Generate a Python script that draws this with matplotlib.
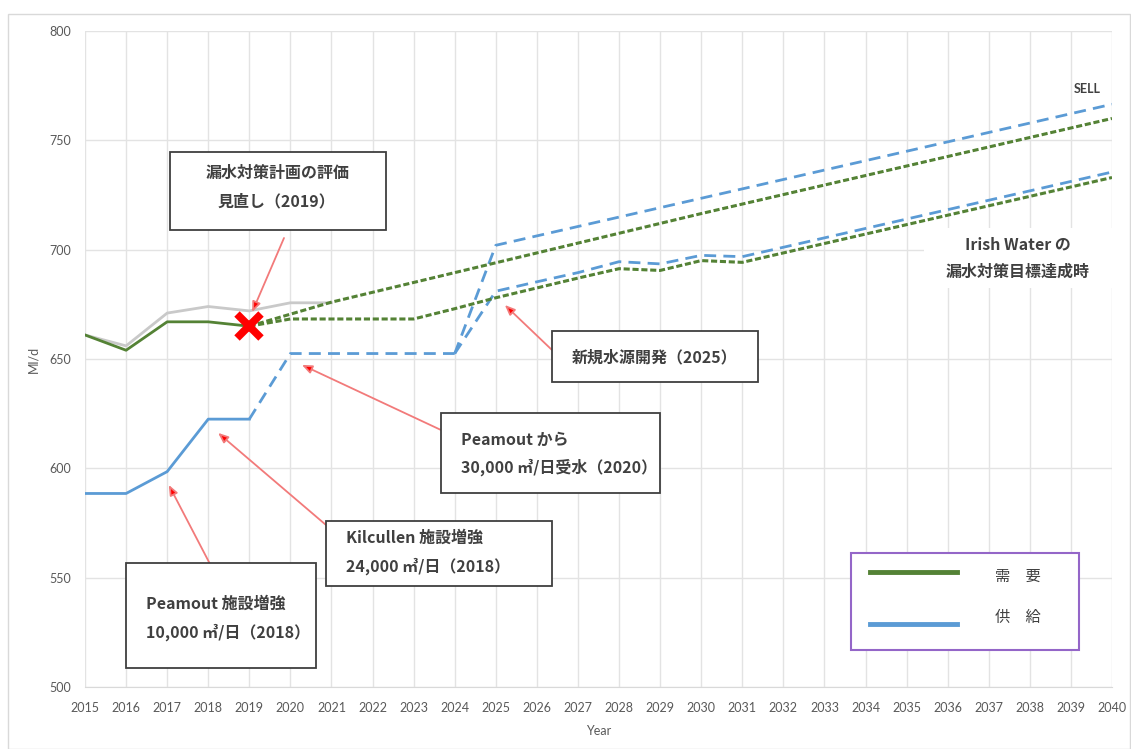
import matplotlib
matplotlib.use("Agg")
import matplotlib.pyplot as plt
from matplotlib.patches import Rectangle
from matplotlib.lines import Line2D

# ---------------- data ----------------
years_hist = [2015, 2016, 2017, 2018, 2019]
demand_hist = [661, 654, 667, 667, 665]
grey_years = [2015, 2016, 2017, 2018, 2019, 2020, 2021]
grey_vals = [661, 656, 671, 674, 672, 675.7, 675.7]

demand_sell_years = [2019, 2021, 2025, 2030, 2040]
demand_sell_vals = [665, 676, 694, 716.5, 760]

demand_iw_years = [2019, 2020, 2021, 2022, 2023, 2024, 2025, 2026, 2027, 2028, 2029, 2030, 2031, 2040]
demand_iw_vals = [665, 668.3, 668.3, 668.3, 668.3, 673, 678, 682.5, 687, 691.3, 690.5, 695, 694.2, 733]

supply_hist = [588.5, 588.5, 598.5, 622.5, 622.5]
supply_mid_years = [2019, 2020, 2021, 2022, 2023, 2024]
supply_mid_vals = [622.5, 652.5, 652.5, 652.5, 652.5, 652.5]

supply_sell_years = [2024, 2025, 2030, 2040]
supply_sell_vals = [652.5, 702, 723.5, 766.5]

supply_iw_years = [2024, 2025, 2026, 2027, 2028, 2029, 2030, 2031, 2040]
supply_iw_vals = [652.5, 681, 685.3, 689.5, 694.5, 693.5, 697.4, 696.8, 735.5]

review_point = (2019, 665)

x_ticks = list(range(2015, 2041))
y_ticks = [500, 550, 600, 650, 700, 750, 800]

# ---------------- style ----------------
W, H = 1131, 749
GREEN = "#548235"
BLUE = "#5B9BD5"
GREY = "#C9C9C9"
TXT = "#404040"
CJK = ["Noto Sans CJK JP", "DejaVu Sans"]

fig = plt.figure(figsize=(W / 100, H / 100), dpi=100)
ax = fig.add_axes([85 / W, 1 - 687 / H, (1112 - 85) / W, (687 - 31) / H])

def fx(px):
    return px / W

def fy(py):
    return 1 - py / H

# outer chart border
fig.add_artist(Rectangle((fx(8), 0), 1 - fx(8) - 0.001, fy(14), transform=fig.transFigure,
                         fill=False, ec="#D9D9D9", lw=1.0, zorder=0))

ax.set_xlim(2015, 2040)
ax.set_ylim(500, 800)
ax.set_xticks(x_ticks)
ax.set_yticks(y_ticks)
ax.set_xticklabels([str(t) for t in x_ticks])
ax.grid(True, color="#E3E3E3", lw=1.0)
ax.set_axisbelow(True)
for s in ["top", "right", "left"]:
    ax.spines[s].set_visible(False)
ax.spines["bottom"].set_color("#D9D9D9")
ax.tick_params(length=0, colors="#595959", labelsize=9)
ax.tick_params(axis="x", pad=11)
ax.tick_params(axis="y", pad=10)
for lab in ax.get_xticklabels() + ax.get_yticklabels():
    lab.set_family("Lato")
ax.set_ylabel("Ml/d", color="#595959", fontsize=9, family="Lato", labelpad=7)
ax.set_xlabel("Year", color="#595959", fontsize=9, family="Lato", labelpad=8)

# lines
ax.plot(grey_years, grey_vals, color=GREY, lw=2, zorder=2)
ax.plot(years_hist, demand_hist, color=GREEN, lw=2, zorder=3)
ax.plot(years_hist, supply_hist, color=BLUE, lw=2, zorder=3)
ax.plot(supply_mid_years, supply_mid_vals, color=BLUE, lw=2, dashes=[4.3, 2.6], zorder=3)
ax.plot(supply_sell_years, supply_sell_vals, color=BLUE, lw=2, dashes=[4.3, 2.6], zorder=3)
ax.plot(supply_iw_years, supply_iw_vals, color=BLUE, lw=2, dashes=[4.3, 2.6], zorder=3)
ax.plot(demand_sell_years, demand_sell_vals, color=GREEN, lw=2.2, dashes=[2.0, 0.9], zorder=4)
ax.plot(demand_iw_years, demand_iw_vals, color=GREEN, lw=2.2, dashes=[2.0, 0.9], zorder=4)

ax.plot([review_point[0]], [review_point[1]], marker="x", color="red", ms=17, mew=5.5, zorder=6)

ax.text(2039.4, 773.5, "SELL", fontsize=9, fontweight="bold", color=TXT, family="Lato",
        ha="center", va="center", zorder=5)

# arrows: head in data coords, tail in figure pixels
arrows = [
    ((2019.07, 671.5), (284, 238)),
    ((2025.22, 674.7), (552, 350)),
    ((2020.28, 647.3), (441, 430)),
    ((2018.24, 616.2), (326, 525)),
    ((2017.04, 592.4), (210, 564)),
]
for head, tail in arrows:
    ax.annotate("", xy=head, xycoords="data", xytext=(fx(tail[0]), fy(tail[1])),
                textcoords="figure fraction",
                arrowprops=dict(arrowstyle="-|>,head_length=0.6,head_width=0.25",
                                fc="#FF0000", ec="#F27A7A", lw=1.3, shrinkA=0, shrinkB=0),
                zorder=5)

def box(x0, y0, x1, y1, edge=True):
    fig.add_artist(Rectangle((fx(x0), fy(y1)), fx(x1) - fx(x0), fy(y0) - fy(y1),
                             transform=fig.transFigure, fc="white",
                             ec="#3F3F3F" if edge else "none", lw=1.3, zorder=10))

def text(x, y, s, ha="left", size=11.5, weight="bold", color=TXT):
    fig.text(fx(x), fy(y), s, ha=ha, va="center", fontsize=size, fontweight=weight,
             color=color, family=CJK, zorder=11)

box(170, 152, 386, 230)
text(278, 173, "漏水対策計画の評価", ha="center")
text(276, 201, "見直し（2019）", ha="center")

box(552, 331, 758, 382)
text(572, 357, "新規水源開発（2025）")

box(441, 413, 660, 493)
text(461, 440, "Peamout から")
text(461, 467, "30,000 ㎥/日受水（2020）")

box(326, 521, 552, 586)
text(346, 538, "Kilcullen 施設増強")
text(346, 566, "24,000 ㎥/日（2018）")

box(126, 563, 316, 668)
text(146, 604, "Peamout 施設増強")
text(146, 632, "10,000 ㎥/日（2018）")

box(924, 228, 1113, 288, edge=False)
text(1018, 244, "Irish Water の", ha="center")
text(1018, 272, "漏水対策目標達成時", ha="center")

# legend
fig.add_artist(Rectangle((fx(851), fy(650)), fx(1079) - fx(851), fy(553) - fy(650),
                         transform=fig.transFigure, fc="white", ec="#9466C8", lw=1.5, zorder=10))
fig.add_artist(Line2D([fx(870), fx(957)], [fy(572), fy(572)], transform=fig.transFigure,
                      color=GREEN, lw=3.5, zorder=11))
fig.add_artist(Line2D([fx(870), fx(957)], [fy(624), fy(624)], transform=fig.transFigure,
                      color=BLUE, lw=3.5, zorder=11))
text(1018, 576, "需　要", ha="center", size=11, weight="normal")
text(1018, 617, "供　給", ha="center", size=11, weight="normal")

fig.savefig("out.png", dpi=100, facecolor="white")
